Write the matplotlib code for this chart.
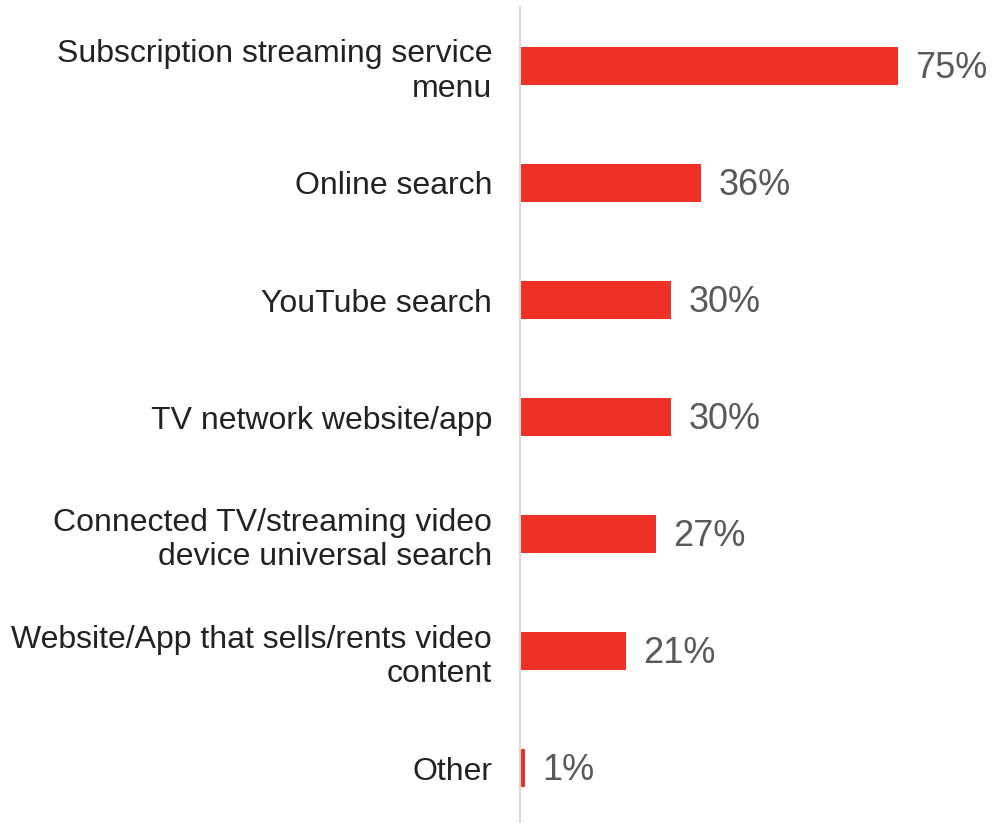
import matplotlib
matplotlib.use('Agg')
import matplotlib.pyplot as plt

plt.rcParams['font.family'] = ['Liberation Sans', 'DejaVu Sans']

# categories and shares (%)
categories = [
    'Subscription streaming service\nmenu',
    'Online search',
    'YouTube search',
    'TV network website/app',
    'Connected TV/streaming video\ndevice universal search',
    'Website/App that sells/rents video\ncontent',
    'Other',
]
shares = [75, 36, 30, 30, 27, 21, 1]

bar_color = '#EE3124'


def main():
    fig = plt.figure(figsize=(9.95, 8.23), dpi=100)
    ax = fig.add_axes([0.5226, -0.0043, 0.405, 0.9952])

    pos = list(range(len(categories)))
    ax.barh(pos, shares, height=0.325, color=bar_color, edgecolor='none')

    for y, v in zip(pos, shares):
        ax.text(v + 3.5, y + 0.02, f'{v}%', va='center', ha='left',
                fontsize=26, color='#595959')

    ax.set_yticks(pos)
    ax.set_yticklabels(categories, fontsize=23, color='#222222',
                       linespacing=1.2)
    ax.tick_params(axis='y', length=0, pad=20)
    ax.set_xticks([])
    ax.set_xlim(0, 80)
    ax.set_ylim(6.5, -0.5)

    for side in ['top', 'right', 'bottom']:
        ax.spines[side].set_visible(False)
    ax.spines['left'].set_color('#D9D9D9')
    ax.spines['left'].set_linewidth(1.5)

    fig.savefig('out.png', dpi=100)


if __name__ == '__main__':
    main()
